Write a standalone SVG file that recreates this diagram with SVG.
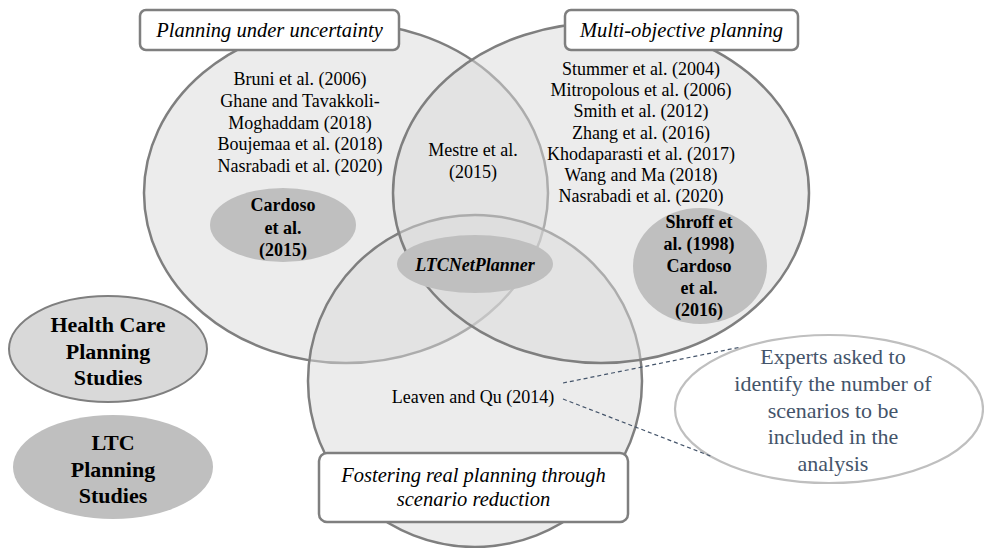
<svg xmlns="http://www.w3.org/2000/svg" width="984" height="548" viewBox="0 0 984 548">
  <style>
    text { font-family: "Liberation Serif", "Times New Roman", serif; fill: #000; text-anchor: middle; }
    .set { fill: #d9d9d9; fill-opacity: 0.5; stroke: #7f7f7f; stroke-width: 2.5; }
    .tag { fill: #ffffff; stroke: #7f7f7f; stroke-width: 2.5; }
    .tagtxt { font-size: 20.5px; font-style: italic; }
    .lst { font-size: 18px; }
    .core { fill: #bfbfbf; stroke: none; }
    .bold { font-size: 18px; font-weight: bold; }
    .legend { font-size: 22px; font-weight: bold; }
    .note { font-size: 22px; fill: #44546a; }
    .lead { fill: none; stroke: #44546a; stroke-width: 1.2; stroke-dasharray: 4 3; }
  </style>

  <!-- Set: planning under uncertainty -->
  <g id="set-uncertainty">
    <ellipse class="set" cx="346" cy="193" rx="202" ry="170"/>
    <rect class="tag" x="140" y="10" width="259" height="40" rx="6"/>
    <text class="tagtxt" x="269.5" y="37">Planning under uncertainty</text>
    <text class="lst" x="300" y="85">Bruni et al. (2006)</text>
    <text class="lst" x="300" y="106.8">Ghane and Tavakkoli-</text>
    <text class="lst" x="300" y="128.6">Moghaddam (2018)</text>
    <text class="lst" x="300" y="150.4">Boujemaa et al. (2018)</text>
    <text class="lst" x="300" y="172.2">Nasrabadi et al. (2020)</text>
  </g>

  <!-- Set: scenario reduction -->
  <g id="set-scenario">
    <ellipse class="set" cx="475" cy="381" rx="167" ry="166"/>
    <rect class="tag" x="319" y="453" width="309" height="69" rx="8"/>
    <text class="tagtxt" x="473.5" y="482">Fostering real planning through</text>
    <text class="tagtxt" x="473.5" y="505.5">scenario reduction</text>
    <text class="lst" x="473" y="403">Leaven and Qu (2014)</text>
  </g>

  <!-- Set: multi-objective planning -->
  <g id="set-multiobjective">
    <ellipse class="set" cx="601" cy="193" rx="208" ry="170"/>
    <rect class="tag" x="565" y="10" width="233" height="40" rx="6"/>
    <text class="tagtxt" x="681.5" y="37">Multi-objective planning</text>
    <text class="lst" x="641" y="75">Stummer et al. (2004)</text>
    <text class="lst" x="641" y="96.2">Mitropolous et al. (2006)</text>
    <text class="lst" x="641" y="117.4">Smith et al. (2012)</text>
    <text class="lst" x="641" y="138.6">Zhang et al. (2016)</text>
    <text class="lst" x="641" y="159.8">Khodaparasti et al. (2017)</text>
    <text class="lst" x="641" y="181">Wang and Ma (2018)</text>
    <text class="lst" x="641" y="202.2">Nasrabadi et al. (2020)</text>
  </g>

  <!-- Intersection entry -->
  <g id="mestre">
    <text class="lst" x="473" y="156">Mestre et al.</text>
    <text class="lst" x="473" y="178">(2015)</text>
  </g>

  <!-- LTC studies inside sets -->
  <g id="cardoso-2015">
    <ellipse class="core" cx="283" cy="225" rx="73" ry="37"/>
    <text class="bold" x="283" y="211">Cardoso</text>
    <text class="bold" x="283" y="233.5">et al.</text>
    <text class="bold" x="283" y="256">(2015)</text>
  </g>

  <g id="shroff-cardoso-2016">
    <ellipse class="core" cx="700" cy="266" rx="67" ry="58"/>
    <text class="bold" x="699" y="228">Shroff et</text>
    <text class="bold" x="699" y="250">al. (1998)</text>
    <text class="bold" x="699" y="272">Cardoso</text>
    <text class="bold" x="699" y="294">et al.</text>
    <text class="bold" x="699" y="316">(2016)</text>
  </g>

  <g id="ltcnetplanner">
    <ellipse class="core" cx="475" cy="264" rx="78" ry="29"/>
    <text class="bold" x="475" y="271" font-style="italic">LTCNetPlanner</text>
  </g>

  <!-- Legend -->
  <g id="legend-health-care">
    <ellipse cx="108" cy="349" rx="99" ry="53" fill="#d9d9d9" stroke="#7f7f7f" stroke-width="2"/>
    <text class="legend" x="108" y="332">Health Care</text>
    <text class="legend" x="108" y="358.5">Planning</text>
    <text class="legend" x="108" y="385">Studies</text>
  </g>

  <g id="legend-ltc">
    <ellipse class="core" cx="113" cy="467" rx="100" ry="52"/>
    <text class="legend" x="113" y="450">LTC</text>
    <text class="legend" x="113" y="476.5">Planning</text>
    <text class="legend" x="113" y="503">Studies</text>
  </g>

  <!-- Callout note -->
  <g id="note-experts">
    <ellipse cx="829" cy="409" rx="154" ry="74" fill="#ffffff" stroke="#bfbfbf" stroke-width="2.2"/>
    <text class="note" x="833" y="364">Experts asked to</text>
    <text class="note" x="833" y="391">identify the number of</text>
    <text class="note" x="833" y="418">scenarios to be</text>
    <text class="note" x="833" y="444">included in the</text>
    <text class="note" x="833" y="471">analysis</text>
  </g>

  <!-- Connectors -->
  <g id="connectors">
    <line class="lead" x1="563" y1="383" x2="741" y2="347"/>
    <line class="lead" x1="563" y1="399" x2="713" y2="457"/>
  </g>
</svg>
